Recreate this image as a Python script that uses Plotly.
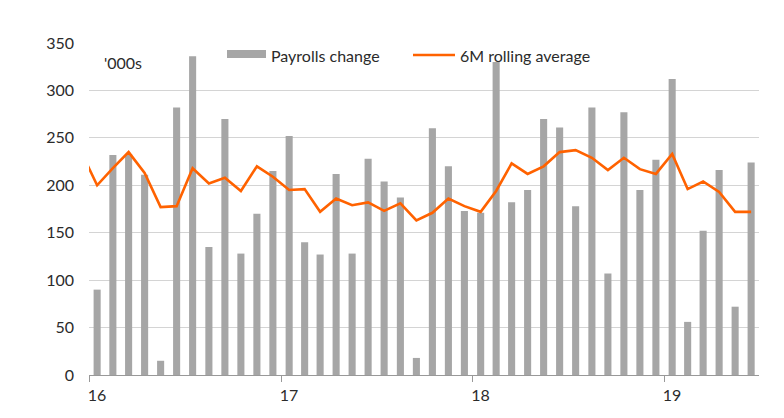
import plotly.graph_objects as go

months = [f"{y}-{m:02d}-01" for y in range(2016, 2020) for m in range(1, 13)][:42]

payrolls = [90, 232, 233, 211, 15, 282, 336, 135, 270, 128, 170, 215,
            252, 140, 127, 212, 128, 228, 204, 187, 18, 260, 220, 173,
            171, 330, 182, 195, 270, 261, 178, 282, 107, 277, 195, 227,
            312, 56, 152, 216, 72, 224]

avg_months = ["2015-12-01"] + months
rolling_avg = [236, 200, 218, 235, 213, 177, 178, 218, 202, 208, 194, 220, 209,
               195, 196, 172, 186, 179, 182, 173, 181, 163, 171, 186, 178,
               172, 194, 223, 212, 220, 235, 237, 229, 216, 229, 217, 212,
               233, 196, 204, 193, 172, 172]

year_ticks = ["2016-01-01", "2017-01-01", "2018-01-01", "2019-01-01"]
year_labels = ["16", "17", "18", "19"]

FONT = "Lato"
TXT = "#2b2b2b"
BAR_COLOR = "#a6a6a6"
LINE_COLOR = "#ff6200"
DAY_MS = 86400000

# plot area in page pixels (page has an 8px body margin)
PX0, PX1, PY0, PY1 = 89, 759, 43, 375
W, H = PX1 - PX0, PY1 - PY0


def px(x):
    return (x - PX0) / W


def py(y):
    return (PY1 - y) / H


fig = go.Figure()
fig.add_trace(go.Bar(
    x=months, y=payrolls, name="Payrolls change",
    marker=dict(color=BAR_COLOR, line=dict(width=0)),
    xperiod="M1", xperiodalignment="middle",
    width=13.5 * DAY_MS, showlegend=False,
))
fig.add_trace(go.Scatter(
    x=avg_months, y=rolling_avg, name="6M rolling average", mode="lines",
    line=dict(color=LINE_COLOR, width=2.6),
    xperiod="M1", xperiodalignment="middle", showlegend=False,
))

# custom legend (shapes + text)
fig.add_shape(type="rect", xref="paper", yref="paper",
              x0=px(227), x1=px(266), y0=py(58), y1=py(50),
              fillcolor=BAR_COLOR, line=dict(width=0))
fig.add_annotation(text="Payrolls change", xref="paper", yref="paper",
                   x=px(269), y=py(55),
                   xanchor="left", yanchor="middle", showarrow=False,
                   font=dict(family=FONT, size=16, color=TXT))
fig.add_shape(type="line", xref="paper", yref="paper",
              x0=px(413), x1=px(455), y0=py(55), y1=py(55),
              line=dict(color=LINE_COLOR, width=2.6))
fig.add_annotation(text="6M rolling average", xref="paper", yref="paper",
                   x=px(458), y=py(55),
                   xanchor="left", yanchor="middle", showarrow=False,
                   font=dict(family=FONT, size=16, color=TXT))
fig.add_annotation(text="'000s", xref="paper", yref="paper",
                   x=px(102), y=py(62),
                   xanchor="left", yanchor="middle", showarrow=False,
                   font=dict(family=FONT, size=16, color=TXT))

fig.update_layout(
    width=784, height=418,
    margin=dict(l=PX0 - 8, r=784 - (PX1 - 8), t=PY0 - 8, b=418 - (PY1 - 8)),
    plot_bgcolor="white", paper_bgcolor="white",
    font=dict(family=FONT, size=16, color=TXT),
    showlegend=False,
    xaxis=dict(
        type="date",
        range=["2016-01-01", "2019-07-01"],
        tickvals=year_ticks, ticktext=year_labels,
        ticks="outside", ticklen=6, tickcolor="#999999", tickwidth=1,
        showline=True, linecolor="#999999", linewidth=1,
        showgrid=False, zeroline=False,
        ticklabelshift=8, ticklabelstandoff=0,
        tickfont=dict(family=FONT, size=16, color=TXT),
    ),
    yaxis=dict(
        range=[0, 350], tickvals=[0, 50, 100, 150, 200, 250, 300, 350],
        showgrid=True, gridcolor="#d4d4d4", gridwidth=1,
        zeroline=False, showline=False, ticks="",
        ticklabelstandoff=14,
        tickfont=dict(family=FONT, size=16, color=TXT),
    ),
)

fig.write_html("out.html")
